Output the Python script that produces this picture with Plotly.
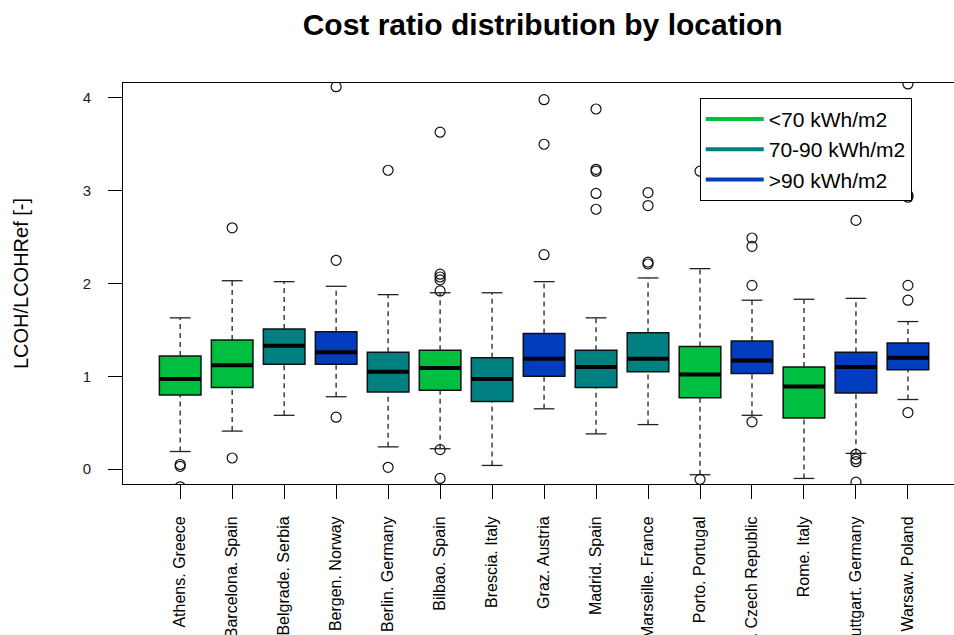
import plotly.graph_objects as go

# Locations and their irradiation class
locations = [
    "Athens. Greece", "Barcelona. Spain", "Belgrade. Serbia", "Bergen. Norway",
    "Berlin. Germany", "Bilbao. Spain", "Brescia. Italy", "Graz. Austria",
    "Madrid. Spain", "Marseille. France", "Porto. Portugal",
    "Prague. Czech Republic", "Rome. Italy", "Stuttgart. Germany", "Warsaw. Poland",
]
irradiation = [
    "<70", "<70", "70-90", ">90", "70-90", "<70", "70-90", ">90",
    "70-90", "70-90", "<70", ">90", "<70", ">90", ">90",
]

# Box statistics of LCOH/LCOHRef per location
lower_whisker = [0.19, 0.41, 0.58, 0.78, 0.24, 0.22, 0.04, 0.65, 0.38, 0.48, -0.06, 0.58, -0.10, 0.17, 0.75]
q1 = [0.80, 0.88, 1.13, 1.13, 0.83, 0.85, 0.73, 1.00, 0.88, 1.05, 0.77, 1.03, 0.55, 0.82, 1.07]
median = [0.97, 1.12, 1.33, 1.26, 1.05, 1.09, 0.97, 1.19, 1.10, 1.19, 1.02, 1.17, 0.89, 1.10, 1.20]
q3 = [1.22, 1.39, 1.51, 1.48, 1.26, 1.28, 1.20, 1.46, 1.28, 1.47, 1.32, 1.38, 1.10, 1.26, 1.36]
upper_whisker = [1.63, 2.03, 2.02, 1.97, 1.88, 1.90, 1.90, 2.02, 1.63, 2.06, 2.16, 1.82, 1.83, 1.84, 1.59]

# Outlying values per location
outliers = [
    [0.03, 0.05, -0.19],
    [2.60, 0.12],
    [],
    [4.12, 2.25, 0.56],
    [3.22, 0.02],
    [3.63, 2.10, 2.07, 2.04, 1.92, 0.21, -0.10],
    [],
    [3.98, 3.50, 2.31],
    [3.88, 3.23, 3.21, 2.97, 2.80],
    [2.98, 2.84, 2.23, 2.21],
    [3.21, -0.11],
    [2.97, 2.49, 2.40, 1.98, 0.51],
    [],
    [2.97, 2.68, 0.16, 0.11, 0.08, -0.14],
    [4.15, 2.95, 2.93, 1.98, 1.82, 0.61],
]

classes = ["<70", "70-90", ">90"]
class_labels = ["<70 kWh/m2", "70-90 kWh/m2", ">90 kWh/m2"]
class_colors = {"<70": "#00BE40", "70-90": "#008080", ">90": "#003CBE"}

FONT = "Liberation Sans, Arial, sans-serif"
BOX_HALF = 0.4
STAPLE_HALF = 0.2
positions = list(range(1, len(locations) + 1))

fig = go.Figure()

# Boxes (one trace per irradiation class)
for c in classes:
    idx = [i for i, k in enumerate(irradiation) if k == c]
    fig.add_trace(go.Box(
        x=[positions[i] for i in idx],
        q1=[q1[i] for i in idx],
        median=[median[i] for i in idx],
        q3=[q3[i] for i in idx],
        lowerfence=[q1[i] for i in idx],
        upperfence=[q3[i] for i in idx],
        width=2 * BOX_HALF,
        whiskerwidth=0,
        fillcolor=class_colors[c],
        line=dict(color="#111111", width=1.5),
        boxpoints=False,
        showlegend=False,
        hoverinfo="skip",
    ))

# Dashed whiskers
wx, wy = [], []
for p, lo, a, b, hi in zip(positions, lower_whisker, q1, q3, upper_whisker):
    wx += [p, p, None, p, p, None]
    wy += [lo, a, None, b, hi, None]
fig.add_trace(go.Scatter(x=wx, y=wy, mode="lines", showlegend=False, hoverinfo="skip",
                         line=dict(color="#222222", width=1.3, dash="5px,4px")))

# Whisker staples
sx, sy = [], []
for p, lo, hi in zip(positions, lower_whisker, upper_whisker):
    sx += [p - STAPLE_HALF, p + STAPLE_HALF, None, p - STAPLE_HALF, p + STAPLE_HALF, None]
    sy += [lo, lo, None, hi, hi, None]
fig.add_trace(go.Scatter(x=sx, y=sy, mode="lines", showlegend=False, hoverinfo="skip",
                         line=dict(color="#222222", width=1.3)))

# Thick median bars
mx, my = [], []
for p, m in zip(positions, median):
    mx += [p - BOX_HALF, p + BOX_HALF, None]
    my += [m, m, None]
fig.add_trace(go.Scatter(x=mx, y=my, mode="lines", showlegend=False, hoverinfo="skip",
                         line=dict(color="black", width=4)))

# Outliers
ox, oy = [], []
for p, vals in zip(positions, outliers):
    for v in vals:
        ox.append(p)
        oy.append(v)
fig.add_trace(go.Scatter(x=ox, y=oy, mode="markers", showlegend=False, hoverinfo="skip",
                         marker=dict(symbol="circle-open", size=10, color="#111111",
                                     line=dict(width=1.2, color="#111111"))))

# Legend entries
for c, lab in zip(classes, class_labels):
    fig.add_trace(go.Scatter(x=[None], y=[None], mode="lines", name=lab,
                             line=dict(color=class_colors[c], width=4)))

fig.update_layout(
    width=954, height=635,
    margin=dict(l=123, r=0, t=83, b=151),
    paper_bgcolor="white", plot_bgcolor="white",
    font=dict(family=FONT, color="black"),
    boxmode="overlay",
    title=dict(text="Cost ratio distribution by location",
               font=dict(family=FONT, size=30, color="black", weight="bold"),
               xref="paper", x=0.505, xanchor="center",
               yref="container", y=0.961, yanchor="middle"),
    legend=dict(x=0.694, y=0.963, xanchor="left", yanchor="top",
                bgcolor="white", bordercolor="black", borderwidth=1,
                font=dict(family=FONT, size=21, color="black"),
                itemwidth=58, tracegroupgap=0),
    xaxis=dict(range=[-0.1, 15.886], tickmode="array", tickvals=positions,
               ticktext=locations, tickangle=-90, ticks="outside", ticklen=14,
               tickcolor="black", showline=True, linecolor="black", linewidth=1,
               mirror=True, showgrid=False, zeroline=False, automargin=False,
               ticklabelstandoff=11,
               tickfont=dict(family=FONT, size=16, color="black")),
    yaxis=dict(range=[-0.16, 4.16], tickmode="array", tickvals=[0, 1, 2, 3, 4],
               ticks="outside", ticklen=14, tickcolor="black", showline=True,
               linecolor="black", linewidth=1, mirror=False, showgrid=False,
               zeroline=False, ticklabelstandoff=14, automargin=False,
               tickfont=dict(family=FONT, size=15, color="#222222"),
               title=dict(text="LCOH/LCOHRef [-]", standoff=48,
                          font=dict(family=FONT, size=20, color="black"))),
)

fig.write_html("out.html")
